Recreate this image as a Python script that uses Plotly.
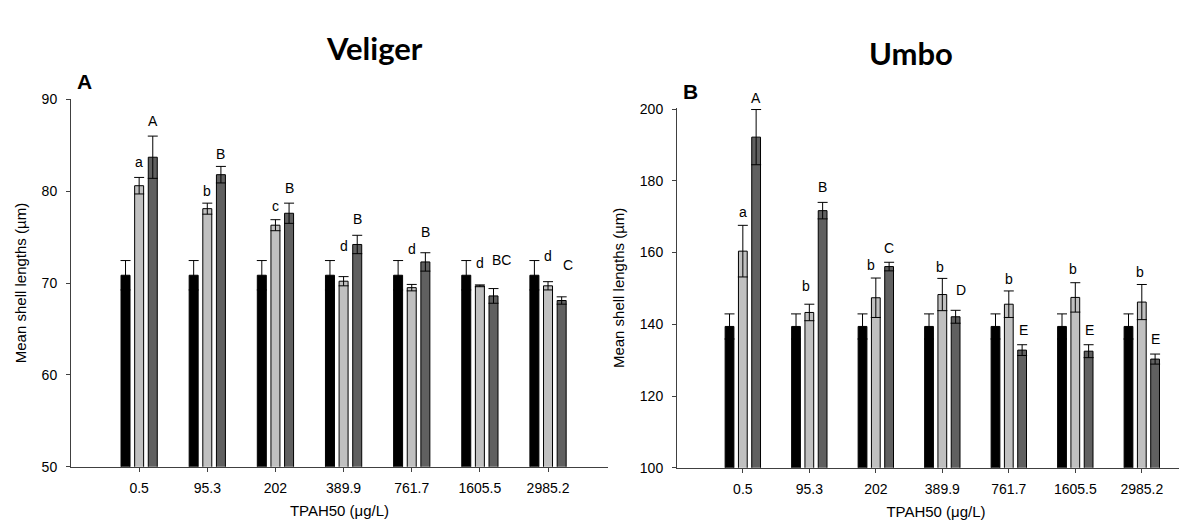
import plotly.graph_objects as go

conc = ["0.5", "95.3", "202", "389.9", "761.7", "1605.5", "2985.2"]

# Veliger (panel A)
vel_control = [70.85, 70.85, 70.85, 70.85, 70.85, 70.85, 70.85]
vel_control_err = [1.6, 1.6, 1.6, 1.6, 1.6, 1.6, 1.6]
vel_light = [80.6, 78.1, 76.3, 70.2, 69.5, 69.7, 69.7]
vel_light_err = [0.9, 0.6, 0.6, 0.5, 0.35, 0.1, 0.45]
vel_dark = [83.7, 81.8, 77.6, 74.2, 72.3, 68.6, 68.1]
vel_dark_err = [2.3, 0.9, 1.1, 1.0, 1.0, 0.8, 0.4]
vel_light_letters = ["a", "b", "c", "d", "d", "d", "d"]
vel_dark_letters = ["A", "B", "B", "B", "B", "BC", "C"]
vel_light_letter_y = [83.2, 80.05, 78.4, 74.0, 73.75, 72.15, 72.9]
vel_dark_letter_y = [87.6, 84.1, 80.3, 77.0, 75.6, 72.5, 72.0]
vel_dark_letter_dx = [0.2, 0.2, 0.2, 0.2, 0.2, 0.32, 0.29]

# Umbo (panel B)
umbo_control = [139.4, 139.4, 139.4, 139.4, 139.4, 139.4, 139.4]
umbo_control_err = [3.5, 3.5, 3.5, 3.5, 3.5, 3.5, 3.5]
umbo_light = [160.4, 143.3, 147.4, 148.3, 145.6, 147.5, 146.2]
umbo_light_err = [7.2, 2.3, 5.5, 4.5, 3.7, 4.1, 4.9]
umbo_dark = [192.2, 171.7, 156.1, 142.1, 132.8, 132.5, 130.3]
umbo_dark_err = [7.7, 2.3, 1.2, 1.8, 1.5, 1.8, 1.4]
umbo_light_letters = ["a", "b", "b", "b", "b", "b", "b"]
umbo_dark_letters = ["A", "B", "C", "D", "E", "E", "E"]
umbo_light_letter_y = [171.3, 150.8, 156.6, 156.0, 152.7, 155.3, 154.5]
umbo_dark_letter_y = [203.0, 178.2, 161.4, 149.5, 138.5, 138.5, 135.8]
umbo_light_letter_dx = [0.0, -0.05, -0.07, -0.04, 0.0, -0.03, -0.02]
umbo_dark_letter_dx = [0.2, 0.2, 0.2, 0.28, 0.22, 0.22, 0.2]

COLORS = ["#000000", "#c0c0c0", "#606060"]
FONT = "Liberation Sans, Arial, sans-serif"
W, H = 1187, 522

fig = go.Figure()

def add_bars(vals, errs, color, xa, ya):
    fig.add_trace(go.Bar(
        x=conc, y=vals, xaxis=xa, yaxis=ya,
        marker=dict(color=color, line=dict(color="#000000", width=1)),
        error_y=dict(type="data", array=errs, visible=True, color="#000000",
                     thickness=1, width=5),
        showlegend=False,
    ))

add_bars(vel_control, vel_control_err, COLORS[0], "x", "y")
add_bars(vel_light, vel_light_err, COLORS[1], "x", "y")
add_bars(vel_dark, vel_dark_err, COLORS[2], "x", "y")
add_bars(umbo_control, umbo_control_err, COLORS[0], "x2", "y2")
add_bars(umbo_light, umbo_light_err, COLORS[1], "x2", "y2")
add_bars(umbo_dark, umbo_dark_err, COLORS[2], "x2", "y2")

UMBO_TOP = 200.3
letter_font = dict(family=FONT, size=14, color="#000")
annotations = []
for i in range(len(conc)):
    annotations.append(dict(x=i, y=vel_light_letter_y[i], xref="x", yref="y",
                            text=vel_light_letters[i], showarrow=False, font=letter_font))
    annotations.append(dict(x=i + vel_dark_letter_dx[i], y=vel_dark_letter_y[i], xref="x", yref="y",
                            text=vel_dark_letters[i], showarrow=False, font=letter_font))
    annotations.append(dict(x=i + umbo_light_letter_dx[i], y=umbo_light_letter_y[i], xref="x2", yref="y2",
                            text=umbo_light_letters[i], showarrow=False, font=letter_font))
    # letters above the axis top are anchored at the top and shifted by pixels
    uy = umbo_dark_letter_y[i]
    shift = 0
    if uy > UMBO_TOP:
        shift = (uy - UMBO_TOP) * (371 / 100.0)
        uy = UMBO_TOP
    annotations.append(dict(x=i + umbo_dark_letter_dx[i], y=uy, yshift=shift, xref="x2", yref="y2",
                            text=umbo_dark_letters[i], showarrow=False, font=letter_font))

title_font = dict(family="Lato, Open Sans, sans-serif", size=31, color="#000")
annotations += [
    dict(x=366 / W, y=1 - 33 / H, xref="paper", yref="paper", text="<b>Veliger</b>",
         xanchor="center", yanchor="middle", showarrow=False, font=title_font),
    dict(x=903 / W, y=1 - 38 / H, xref="paper", yref="paper", text="<b>Umbo</b>",
         xanchor="center", yanchor="middle", showarrow=False, font=title_font),
    dict(x=77 / W, y=1 - 68 / H, xref="paper", yref="paper", text="<b>A</b>",
         xanchor="center", yanchor="middle", showarrow=False, font=dict(family=FONT, size=21, color="#000")),
    dict(x=682 / W, y=1 - 78 / H, xref="paper", yref="paper", text="<b>B</b>",
         xanchor="center", yanchor="middle", showarrow=False, font=dict(family=FONT, size=21, color="#000")),
]

axis_common = dict(showline=True, linecolor="#404040", linewidth=1, ticks="outside",
                   ticklen=4, tickcolor="#404040", showgrid=False, zeroline=False,
                   tickfont=dict(family=FONT, size=14, color="#000"))

xtitle = dict(text="TPAH50 (μg/L)", font=dict(family=FONT, size=15, color="#000"), standoff=10)
ytitle = dict(text="Mean shell lengths (µm)", font=dict(family=FONT, size=15, color="#000"), standoff=11)

fig.update_layout(
    width=W, height=H,
    margin=dict(l=0, r=0, t=0, b=0),
    paper_bgcolor="white", plot_bgcolor="white",
    barmode="group", bargap=0.4, bargroupgap=0.34,
    showlegend=False,
    annotations=annotations,
    xaxis=dict(domain=[63 / W, 600 / W], range=[-1.0, 6.88], type="category",
               title=xtitle, anchor="y", ticklabelstandoff=4, **axis_common),
    yaxis=dict(domain=[1 - 465 / H, 1 - 86 / H], range=[50, 90], dtick=10,
               title=ytitle, anchor="x", ticklabelstandoff=6, **axis_common),
    xaxis2=dict(domain=[669 / W, 1.0], range=[-0.99, 6.8], type="category",
                title=xtitle, anchor="y2", ticklabelstandoff=4, **axis_common),
    yaxis2=dict(domain=[1 - 466 / H, 1 - 95 / H], range=[100, UMBO_TOP], tickvals=[100, 120, 140, 160, 180, 200],
                title=ytitle, anchor="x2", ticklabelstandoff=6, **axis_common),
)

fig.write_html("out.html")
